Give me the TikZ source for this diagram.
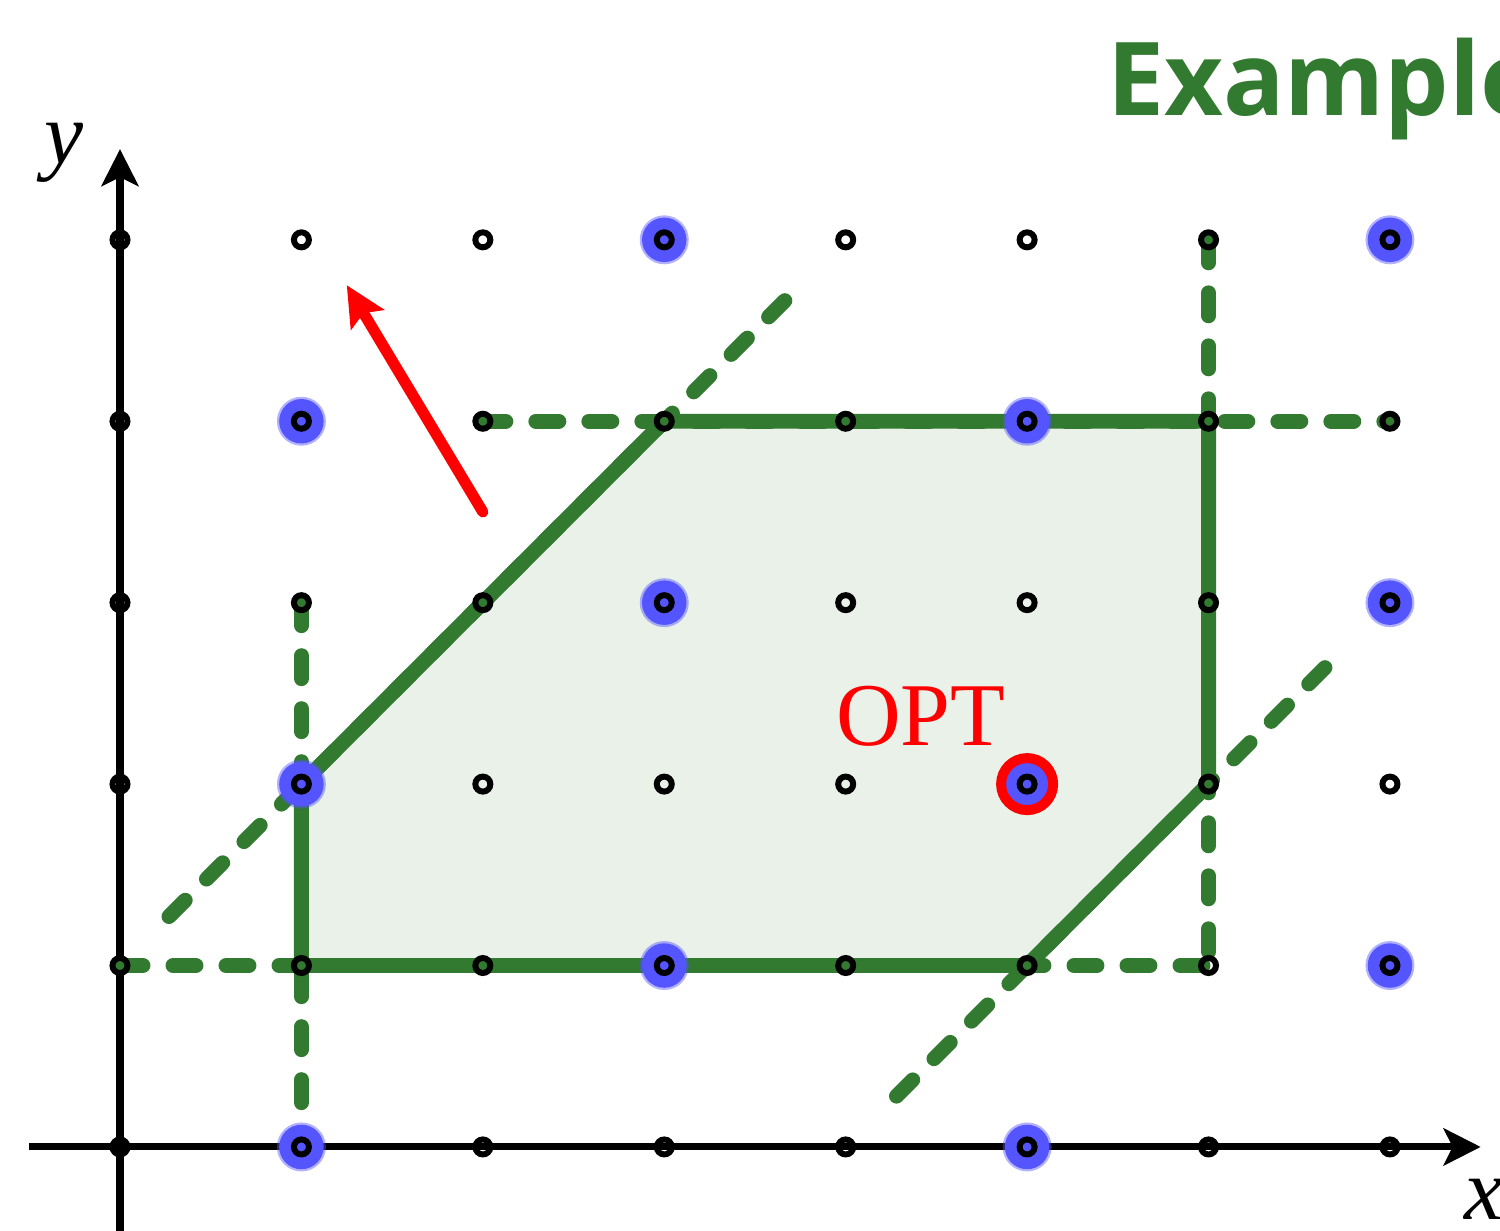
\documentclass[tikz,border=0pt]{standalone}
\usepackage{fontspec}
\setmainfont{Liberation Serif}
\newfontfamily\titlefont{Open Sans}
\usetikzlibrary{arrows.meta}
\definecolor{pgreen}{RGB}{50,122,48}
\definecolor{pfill}{RGB}{233,241,233}
\definecolor{pblue}{RGB}{85,85,255}
\definecolor{pred}{RGB}{255,0,0}
\begin{document}
\begin{tikzpicture}[x=3.6286cm,y=3.6286cm,
  edge/.style={pgreen, line width=8.5pt, line cap=round, line join=round},
  dashline/.style={pgreen, line width=8.5pt, line cap=round, dash pattern=on 0.46cm off 0.6cm},
  axisline/.style={black, line width=4pt, -{Stealth[length=0.74cm,width=0.74cm,inset=0.18cm]}},
  gdot/.style={draw=black, line width=3.4pt},
  bluedisk/.style={fill=pblue},
  arrowred/.style={pred, line width=6.3pt, line cap=round, -{Stealth[length=0.8cm,width=0.76cm,inset=0.15cm]}},
  lbl/.style={font=\itshape\fontsize{50}{60}\selectfont, anchor=base, inner sep=0pt}
]
\useasboundingbox (-0.6614,-0.4630) rectangle (7.6066,6.3220);
% grid coordinates
\foreach \i in {0,...,7}{\foreach \j in {0,...,5}{\coordinate (p\i\j) at (\i,\j);}}
\coordinate (xs) at (-0.5,0);
\coordinate (xe) at (7.5,0);
\coordinate (ys) at (0,-0.5);
\coordinate (ye) at (0,5.5);
\coordinate (d1a) at (0.27,1.27);
\coordinate (d1b) at (3.78,4.78);
\coordinate (d2a) at (4.28,0.28);
\coordinate (d2b) at (6.73,2.73);
\coordinate (a1) at (2,3.5);
\coordinate (a2) at (1.25,4.75);
% feasible region
\fill[pfill] (p11) -- (p12) -- (p34) -- (p64) -- (p62) -- (p51) -- cycle;
% axes
\draw[axisline] (xs) -- (xe);
\draw[axisline] (ys) -- (ye);
% dashed constraints
\draw[dashline] (p01) -- (p61);
\draw[dashline] (p13) -- (p10);
\draw[dashline] (p24) -- (p74);
\draw[dashline] (p65) -- (p61);
\draw[dashline] (d1a) -- (d1b);
\draw[dashline] (d2a) -- (d2b);
% polygon edges
\draw[edge] (p11) -- (p12) -- (p34) -- (p64) -- (p62) -- (p51) -- cycle;
% objective direction
\draw[arrowred] (a1) -- (a2);
% blue lattice points
\foreach \p in {35,75,14,54,33,73,12,52,31,71,10,50}{
  \fill[pblue, opacity=0.45] (p\p) circle[radius=0.49cm];
  \fill[bluedisk] (p\p) circle[radius=0.445cm];
}
% optimum marker
\draw[pred, line width=0.2cm] (p52) circle[radius=0.52cm];
% lattice dots
\foreach \i in {0,...,7}{\foreach \j in {0,...,5}{\draw[gdot] (p\i\j) circle[radius=0.15cm];}}
% texts
\node[font=\titlefont\bfseries\fontsize{58}{70}\selectfont, text=pgreen, anchor=base west, inner sep=0pt] (title) at (5.44,5.688) {Example};
\node[font=\fontsize{51}{60}\selectfont, text=pred, anchor=base west, inner sep=0pt] (opt) at (3.946,2.21) {OPT};
\node[lbl] (ylab) at (-0.31,5.42) {y};
\node[lbl] (xlab) at (7.52,-0.40) {x};
\end{tikzpicture}
\end{document}
